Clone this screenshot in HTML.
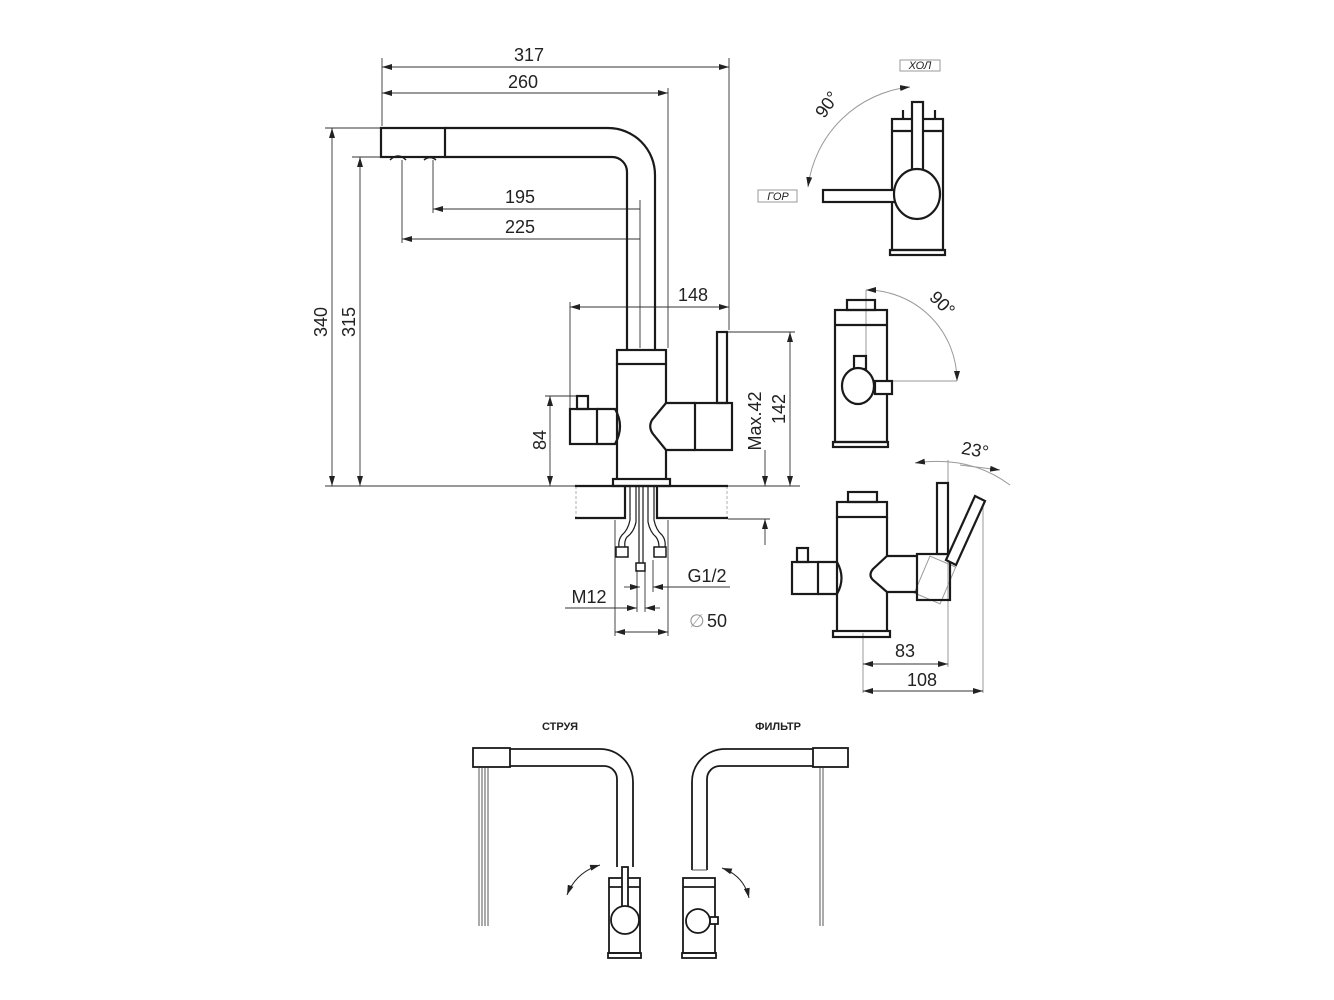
<!DOCTYPE html>
<html><head><meta charset="utf-8"><style>
html,body{margin:0;padding:0;background:#fff}
svg{display:block}
text{font-family:"Liberation Sans",sans-serif;fill:#222}
</style></head><body>
<svg width="1334" height="1000" viewBox="0 0 1334 1000" xmlns="http://www.w3.org/2000/svg">
<defs>
<marker id="a" viewBox="0 0 10 6" refX="10" refY="3" markerWidth="10" markerHeight="6" orient="auto-start-reverse" markerUnits="userSpaceOnUse"><path d="M0,0 L10,3 L0,6 Z" fill="#222"/></marker>
</defs>
<g fill="none" stroke="#333" stroke-width="0.9">
<line x1="382" y1="67" x2="729" y2="67" marker-start="url(#a)" marker-end="url(#a)"/>
<line x1="382" y1="93" x2="668" y2="93" marker-start="url(#a)" marker-end="url(#a)"/>
<line x1="382" y1="58" x2="382" y2="126"/>
<line x1="729" y1="58" x2="729" y2="330"/>
<line x1="668" y1="88" x2="668" y2="348"/>
<line x1="433" y1="160" x2="433" y2="213"/>
<line x1="402" y1="160" x2="402" y2="243"/>
<line x1="433" y1="209" x2="640" y2="209" marker-start="url(#a)"/>
<line x1="402" y1="239" x2="640" y2="239" marker-start="url(#a)"/>
<line x1="640" y1="200" x2="640" y2="348"/>
<line x1="325" y1="128" x2="380" y2="128"/>
<line x1="352" y1="157" x2="395" y2="157"/>
<line x1="332" y1="128" x2="332" y2="486" marker-start="url(#a)" marker-end="url(#a)"/>
<line x1="360" y1="157" x2="360" y2="486" marker-start="url(#a)" marker-end="url(#a)"/>
<line x1="325" y1="486" x2="800" y2="486"/>
<line x1="545" y1="396" x2="578" y2="396"/>
<line x1="550" y1="396" x2="550" y2="486" marker-start="url(#a)" marker-end="url(#a)"/>
<line x1="570" y1="307" x2="729" y2="307" marker-start="url(#a)" marker-end="url(#a)"/>
<line x1="570" y1="302" x2="570" y2="409"/>
<line x1="728" y1="332" x2="795" y2="332"/>
<line x1="790" y1="332" x2="790" y2="486" marker-start="url(#a)" marker-end="url(#a)"/>
<line x1="765" y1="450" x2="765" y2="486" marker-end="url(#a)"/>
<line x1="765" y1="519" x2="765" y2="545" marker-start="url(#a)"/>
<line x1="728" y1="519" x2="770" y2="519"/>
<line x1="576" y1="486" x2="576" y2="518" stroke="#aaa" stroke-dasharray="3,2"/>
<line x1="727" y1="486" x2="727" y2="518" stroke="#aaa" stroke-dasharray="3,2"/>
<line x1="615" y1="520" x2="615" y2="636"/>
<line x1="668" y1="520" x2="668" y2="636"/>
<line x1="637" y1="570" x2="637" y2="612"/>
<line x1="645" y1="570" x2="645" y2="612"/>
<line x1="653" y1="560" x2="653" y2="592"/>
<line x1="624" y1="587" x2="640" y2="587" marker-end="url(#a)"/>
<line x1="680" y1="587" x2="730" y2="587"/><line x1="680" y1="587" x2="653" y2="587" marker-end="url(#a)"/>
<line x1="565" y1="608" x2="637" y2="608" marker-end="url(#a)"/>
<line x1="660" y1="608" x2="645" y2="608" marker-end="url(#a)"/>
<line x1="615" y1="632" x2="668" y2="632" marker-start="url(#a)" marker-end="url(#a)"/>
</g>
<g fill="none" stroke="#1a1a1a" stroke-width="2.2">
<rect x="381" y="128" width="64" height="29"/>
<path d="M445,128 L608,128 A47,47 0 0 1 655,175 L655,350"/>
<path d="M445,157 L612,157 A15,15 0 0 1 627,172 L627,350"/>
<path d="M390,160 q8,-8 16,0 M424,160 q6,-5 12,0" stroke-width="1.5"/>
<rect x="617" y="350" width="49" height="14"/>
<path d="M617,364 L617,480 M666,364 L666,403 M666,450 L666,480"/>
<rect x="613" y="479" width="57" height="7"/>
<rect x="577" y="396" width="11" height="13"/>
<rect x="570" y="409" width="27" height="35"/>
<path d="M597,409 L615,409 Q625,426 615,444 L597,444"/>
<path d="M695,403 L666,403 L652,420 Q648,427 653,434 L666,450 L695,450"/>
<rect x="695" y="403" width="37" height="47"/>
<rect x="717" y="332" width="10" height="71"/>
<path d="M575,486 L728,486 M575,518 L625,518 L625,486 M657,486 L657,518 L728,518"/>
<path d="M630,486 L630,520 Q628,530 622,535 Q618,540 619,547 M636,486 L636,522 Q634,532 627,537 Q624,541 625,547" stroke-width="1.2"/>
<path d="M648,486 L648,522 Q650,532 656,537 Q659,541 659,547 M654,486 L654,520 Q656,530 662,535 Q666,540 665,547" stroke-width="1.2"/>
<path d="M639,486 L639,563 M643,486 L643,563" stroke-width="1.2"/>
<rect x="616" y="547" width="12" height="10" stroke-width="1.5"/>
<rect x="654" y="547" width="12" height="10" stroke-width="1.5"/>
<rect x="636" y="563" width="9" height="8" stroke-width="1.5"/>
</g>
<text x="529" y="61" font-size="18" text-anchor="middle">317</text>
<text x="523" y="88" font-size="18" text-anchor="middle">260</text>
<text x="520" y="203" font-size="18" text-anchor="middle">195</text>
<text x="520" y="233" font-size="18" text-anchor="middle">225</text>
<text x="693" y="301" font-size="18" text-anchor="middle">148</text>
<text transform="translate(327,322) rotate(-90)" font-size="18" text-anchor="middle">340</text>
<text transform="translate(355,322) rotate(-90)" font-size="18" text-anchor="middle">315</text>
<text transform="translate(546,440) rotate(-90)" font-size="18" text-anchor="middle">84</text>
<text transform="translate(785,409) rotate(-90)" font-size="18" text-anchor="middle">142</text>
<text transform="translate(761,421) rotate(-90)" font-size="18" text-anchor="middle">Max.42</text>
<text x="707" y="582" font-size="18" text-anchor="middle">G1/2</text>
<text x="589" y="603" font-size="18" text-anchor="middle">M12</text>
<text x="689" y="627" font-size="18" style="fill:#999">∅</text><text x="707" y="627" font-size="18">50</text>

<g fill="none" stroke="#999" stroke-width="1">
<path d="M910,87 A115,115 0 0 0 808,187" marker-start="url(#a)" marker-end="url(#a)"/>
<rect x="900" y="60" width="40" height="11"/>
<rect x="758" y="190" width="39" height="12"/>
<path d="M866,290 A91,91 0 0 1 957,381" marker-start="url(#a)" marker-end="url(#a)"/>
<line x1="866" y1="290" x2="866" y2="381"/><line x1="866" y1="381" x2="957" y2="381"/>
<path d="M915,463 Q970,455 1010,485" marker-start="url(#a)"/>
<line x1="960" y1="465" x2="1000" y2="470" marker-end="url(#a)"/>
<line x1="948" y1="460" x2="948" y2="667"/>
<line x1="983" y1="503" x2="983" y2="693"/>
<line x1="863" y1="633" x2="863" y2="693"/>
<rect x="921" y="560" width="28" height="40" transform="rotate(23 935 580)"/>
</g>
<g fill="none" stroke="#333" stroke-width="0.9">
<line x1="863" y1="664" x2="948" y2="664" marker-start="url(#a)" marker-end="url(#a)"/>
<line x1="863" y1="691" x2="983" y2="691" marker-start="url(#a)" marker-end="url(#a)"/>
</g>
<text x="920" y="69" font-size="11" text-anchor="middle" font-style="italic">ХОЛ</text>
<text x="778" y="200" font-size="11" text-anchor="middle" font-style="italic">ГОР</text>
<text transform="translate(832,108) rotate(-55)" font-size="18" text-anchor="middle">90°</text>
<text transform="translate(938,308) rotate(45)" font-size="18" text-anchor="middle">90°</text>
<text transform="translate(974,456) rotate(10)" font-size="18" text-anchor="middle">23°</text>
<text x="905" y="657" font-size="18" text-anchor="middle">83</text>
<text x="922" y="686" font-size="18" text-anchor="middle">108</text>
<g fill="none" stroke="#1a1a1a" stroke-width="2.2">
<rect x="892" y="119" width="51" height="131"/>
<line x1="892" y1="131" x2="943" y2="131"/>
<path d="M903,119 L903,110 M935,119 L935,110"/>
<rect x="912" y="102" width="11" height="80" fill="#fff"/>
<rect x="823" y="190" width="75" height="12" fill="#fff"/>
<ellipse cx="917" cy="194" rx="23" ry="25" fill="#fff"/>
<rect x="890" y="250" width="55" height="5"/>
<rect x="847" y="300" width="28" height="10"/>
<rect x="835" y="310" width="52" height="132"/>
<line x1="835" y1="325" x2="887" y2="325"/>
<rect x="854" y="356" width="12" height="13" fill="#fff"/>
<rect x="875" y="381" width="17" height="13" fill="#fff"/>
<ellipse cx="858" cy="386" rx="16" ry="18" fill="#fff"/>
<rect x="833" y="442" width="55" height="5"/>
<rect x="848" y="492" width="29" height="10"/>
<rect x="837" y="502" width="50" height="15"/>
<path d="M837,517 L837,631 M887,517 L887,556 M887,592 L887,631"/>
<rect x="833" y="631" width="57" height="6"/>
<rect x="797" y="548" width="11" height="14"/>
<rect x="792" y="562" width="26" height="32"/>
<path d="M818,562 L837,562 Q846,578 837,594 L818,594"/>
<path d="M917,556 L887,556 L873,569 Q868,575 873,580 L887,592 L917,592"/>
<rect x="917" y="554" width="33" height="46"/>
<rect x="937" y="483" width="11" height="71" fill="#fff"/>
<path d="M946,560 L975,496 L985,501 L956,565 Z" fill="#fff"/>
</g>

<text x="560" y="730" font-size="11" text-anchor="middle" font-weight="bold">СТРУЯ</text>
<text x="778" y="730" font-size="11" text-anchor="middle" font-weight="bold">ФИЛЬТР</text>
<g fill="none" stroke="#1a1a1a" stroke-width="1.8">
<rect x="473" y="748" width="37" height="19"/>
<path d="M510,749 L600,749 A33,33 0 0 1 633,782 L633,867"/>
<path d="M510,766 L604,766 A13,13 0 0 1 617,779 L617,867"/>
<rect x="609" y="878" width="31" height="75"/>
<line x1="609" y1="887" x2="640" y2="887"/>
<rect x="608" y="953" width="33" height="5"/>
<rect x="622" y="867" width="6" height="45" fill="#fff"/>
<circle cx="625" cy="920" r="14" fill="#fff"/>
<rect x="813" y="748" width="35" height="19"/>
<path d="M813,749 L725,749 A33,33 0 0 0 692,782 L692,870"/>
<path d="M813,766 L720,766 A13,13 0 0 0 707,779 L707,870"/>
<rect x="683" y="878" width="32" height="75"/>
<line x1="683" y1="887" x2="715" y2="887"/>
<rect x="682" y="953" width="34" height="5"/>
<rect x="710" y="917" width="8" height="7" fill="#fff"/>
<circle cx="698" cy="921" r="12" fill="#fff"/>
</g>
<g stroke="#555" stroke-width="1" fill="none">
<path d="M479,768 L479,926 M482,768 L482,926 M485,768 L485,926 M488,768 L488,926"/>
<path d="M820,768 L820,926 M823,768 L823,926"/>
<path d="M692,870 L707,870"/>
</g>
<g stroke="#222" stroke-width="1" fill="none">
<path d="M600,865 Q576,872 567,895" marker-start="url(#a)" marker-end="url(#a)"/>
<path d="M722,868 Q744,876 749,898" marker-start="url(#a)" marker-end="url(#a)"/>
</g>
</svg>
</body></html>
